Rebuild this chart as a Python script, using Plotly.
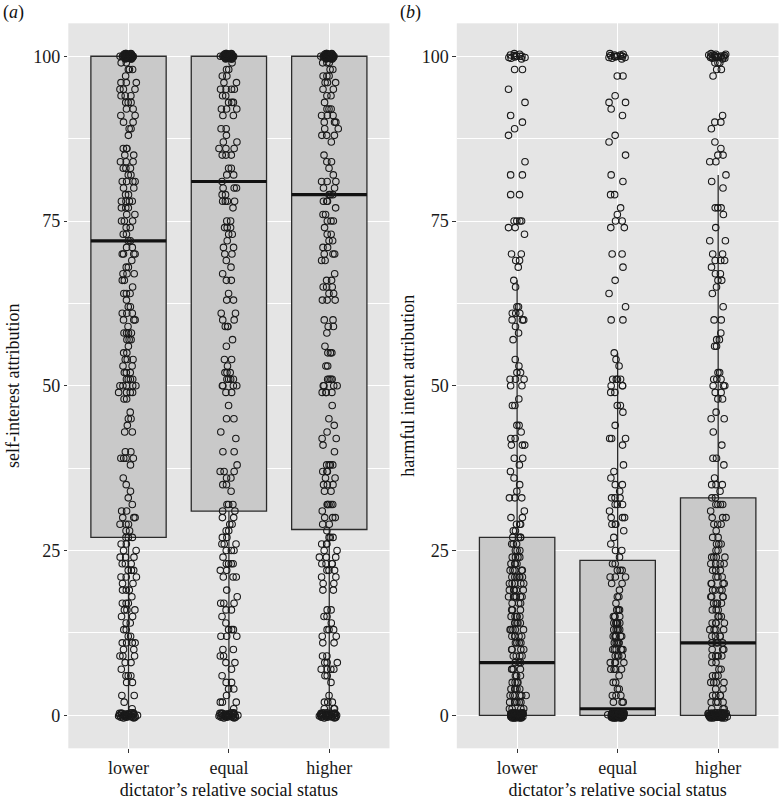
import plotly.graph_objects as go

categories = ["lower", "equal", "higher"]

# ---- box statistics (hinges, median, whisker ends) ----
self_q1 = [27, 31, 28.2]
self_median = [72, 81, 79]
self_q3 = [100, 100, 100]
self_lowerfence = [0, 0, 0]
self_upperfence = [100, 100, 100]

harm_q1 = [0, 0, 0]
harm_median = [8, 1, 11]
harm_q3 = [27, 23.5, 33]
harm_lowerfence = [0, 0, 0]
harm_upperfence = [66, 55, 82]

# ---- individual responses (read approximately from the jittered points) ----
self_lower = [
    100, 99.8, 100.2, 99.7, 100.3, 100, 99.9, 100.1, 99.6, 100.4, 100, 99.8, 100.2, 100, 99.7, 100.3, 99.9, 100.1,
    100, 99.8, 100.2, 99.6, 100.4, 100, 99.9, 100.1, 100, 99.7, 100.3, 100, 99.8, 100.2, 100, 99.9, 100.1, 100,
    100, 99.8, 100.2, 99.7, 100.3, 100, 99.9, 100.1, 99.6, 100.4, 100, 99.8, 100.2, 100,
    99, 99, 98, 98, 98, 97, 96, 96, 96, 95, 95, 95, 94, 94, 94, 93, 93, 93, 92, 92, 91, 91, 90, 90, 89, 89, 88,
    86, 86, 86, 85, 85, 84, 84, 84, 83, 83, 83, 82, 82, 81, 81, 81, 81, 80, 80, 79, 79, 78, 78, 78, 78, 77, 77,
    77, 76, 76, 75, 75, 75, 74, 74, 73, 73, 72, 72, 71, 71, 70, 70,
    70, 70, 69, 68, 68, 67, 67, 67, 66, 66, 65, 64, 64, 64, 63, 62, 62, 61, 61, 61, 60, 60, 60, 59, 58, 58, 58,
    58, 57, 57, 57, 56, 55, 55, 54, 54, 54, 53, 53, 52, 52, 52, 51, 51, 51, 51, 50, 50, 50, 50, 50, 49, 49, 49,
    49, 48, 48, 46, 45, 45, 44, 43, 43, 40, 40, 39, 39, 39, 39, 38, 36, 35, 34, 33, 31,
    32, 31, 30, 30, 30, 29, 29, 29, 28, 28, 27, 27, 27, 26, 26, 25, 25, 24, 24, 24, 23, 23, 23, 22, 22, 22, 21,
    21, 21, 20, 20, 19, 19, 19, 18, 17, 17, 17, 16, 16, 16, 15, 15, 14, 14, 13, 13, 12, 12, 11, 11, 11, 11, 10,
    10, 9, 9, 9, 8, 8, 7, 6, 6, 6, 5, 5, 3, 3, 2, 1,
    0, 0.2, -0.2, 0.3, -0.3, 0.1, -0.1, 0.4, -0.4, 0, 0.2, -0.2, 0.3, -0.3, 0.1, -0.1, 0, 0.2, -0.2, 0.3, -0.3,
    0.1, -0.1, 0.4, -0.4, 0, 0.2, -0.2, 0.1, -0.1, 0, 0.3, -0.3, 0.2,
]
self_equal = [
    100, 99.8, 100.2, 99.7, 100.3, 100, 99.9, 100.1, 99.6, 100.4, 100, 99.8, 100.2, 100, 99.7, 100.3, 99.9, 100.1,
    100, 99.8, 100.2, 99.6, 100.4, 100, 99.9, 100.1, 100, 99.7, 100.3, 100, 99.8, 100.2, 100, 99.9, 100.1, 100,
    100, 99.8, 100.2, 99.7, 100.3, 100, 99.9, 100.1, 99.6, 100.4, 100, 99.8, 100.2, 100,
    99, 98, 98, 97, 97, 96, 96, 95, 95, 95, 95, 94, 94, 93, 93, 93, 92, 92, 92, 91, 91, 89, 89, 88, 87, 87, 86,
    86, 86, 85, 85, 85, 83, 83, 82, 82, 81, 80, 80, 80, 79, 79, 78, 78, 78, 78, 77, 75, 75, 74, 74, 74, 73, 73,
    72, 71, 71,
    70, 70, 69, 68, 67, 66, 66, 64, 63, 63, 61, 61, 60, 60, 59, 59, 59, 57, 56, 54, 54, 53, 52, 52, 52, 51, 51,
    51, 51, 50, 50, 50, 50, 49, 49, 47, 45, 45, 43, 42, 40, 40, 38, 37, 37, 37, 36, 36, 35, 35, 34, 32, 32, 31,
    32, 31, 30, 30, 29, 29, 28, 28, 27, 27, 26, 26, 26, 25, 25, 25, 24, 23, 23, 23, 23, 22, 22, 21, 21, 21, 19,
    18, 17, 17, 17, 16, 16, 15, 14, 13, 13, 13, 12, 12, 12, 10, 10, 9, 9, 8, 8, 7, 6, 5, 5, 4, 4, 3, 2, 2, 2, 1,
    0, 0.2, -0.2, 0.3, -0.3, 0.1, -0.1, 0.4, -0.4, 0, 0.2, -0.2, 0.3, -0.3, 0.1, -0.1, 0, 0.2, -0.2, 0.3, -0.3,
    0.1, -0.1, 0.4, -0.4, 0, 0.2, -0.2, 0.1, -0.1, 0, 0.3, -0.3, 0.2,
]
self_higher = [
    100, 99.8, 100.2, 99.7, 100.3, 100, 99.9, 100.1, 99.6, 100.4, 100, 99.8, 100.2, 100, 99.7, 100.3, 99.9, 100.1,
    100, 99.8, 100.2, 99.6, 100.4, 100, 99.9, 100.1, 100, 99.7, 100.3, 100, 99.8, 100.2, 100, 99.9, 100.1, 100,
    100, 99.8, 100.2, 99.7, 100.3, 100, 99.9, 100.1, 99.6, 100.4, 100, 99.8, 100.2, 100,
    99, 99, 99, 98, 98, 97, 97, 97, 96, 96, 96, 95, 95, 94, 94, 93, 92, 92, 92, 91, 91, 91, 90, 90, 90, 89, 89,
    88, 88, 88, 87, 85, 84, 84, 83, 82, 81, 81, 81, 80, 80, 79, 79, 79, 78, 78, 78, 77, 76, 76, 75, 75, 75, 74,
    73, 73, 72, 72, 71, 70, 70,
    71, 70, 69, 69, 67, 66, 66, 65, 65, 65, 64, 64, 63, 63, 63, 60, 60, 59, 59, 58, 56, 55, 55, 55, 53, 53, 51,
    51, 51, 51, 50, 50, 50, 50, 49, 49, 49, 49, 47, 45, 44, 43, 42, 42, 41, 40, 38, 38, 38, 38, 37, 37, 37, 36,
    36, 35, 35, 35, 34, 34, 32, 32, 32,
    32, 32, 31, 30, 30, 30, 29, 29, 28, 27, 27, 27, 26, 26, 26, 25, 25, 24, 24, 24, 23, 23, 23, 23, 22, 22, 22,
    21, 21, 20, 20, 19, 19, 16, 16, 15, 15, 14, 13, 13, 13, 12, 12, 11, 11, 9, 9, 8, 8, 8, 7, 7, 7, 7, 6, 6, 5,
    3, 2, 2, 2, 1, 1, 1,
    0, 0.2, -0.2, 0.3, -0.3, 0.1, -0.1, 0.4, -0.4, 0, 0.2, -0.2, 0.3, -0.3, 0.1, -0.1, 0, 0.2, -0.2, 0.3, -0.3,
    0.1, -0.1, 0.4, -0.4, 0, 0.2, -0.2, 0.1, -0.1, 0, 0.3, -0.3, 0.2, -0.2, 0.1,
]

harm_lower = [
    100, 99.8, 100.2, 99.7, 100.3, 100, 99.9, 100.1, 99.6, 100.4, 100, 99.8,
    98, 98, 95, 93, 91, 90, 89, 88, 84, 82, 82, 79, 79, 75, 75, 75, 75, 74, 74, 73, 70, 69,
    70, 69, 68, 66, 65, 62, 62, 61, 61, 61, 60, 60, 60, 59, 58, 57, 54, 53, 52, 52, 51, 51, 51, 50, 50, 48, 47,
    47, 44, 44, 43, 42, 42, 41, 41, 41, 39, 39, 38, 37, 36, 35, 34, 33, 33,
    33, 31, 30, 30, 29, 29, 29, 28, 28, 27, 27, 27, 27, 26, 26, 25, 25, 24, 24, 24, 23, 23, 23, 22, 22, 22, 22,
    21, 21, 21, 21, 20, 20, 20, 20, 19, 19, 19, 19, 18, 18, 18, 18, 17, 17, 16, 16, 15, 15, 15, 14, 14, 14, 14,
    13, 13, 13, 12, 12, 12, 11, 11, 11, 10, 10, 10, 9, 9, 8, 8, 7, 7, 7, 6, 5, 5, 4, 4, 4, 4, 3, 3, 3, 3, 2, 2,
    2, 2, 1, 1, 26, 25, 23, 22, 21, 20, 19, 18, 17, 16, 15, 14, 13, 12, 11, 10, 9, 8, 7, 6, 5, 4, 3, 2, 1, 24,
    21, 18, 15, 13, 12, 9, 6, 5, 3, 2, 1,
    0, 0.2, -0.2, 0.3, -0.3, 0.1, -0.1, 0.4, -0.4, 0, 0.2, -0.2, 0.3, -0.3, 0.1, -0.1, 0, 0.2, -0.2, 0.3, -0.3,
    0.1, -0.1, 0.4, -0.4, 0, 0.2, -0.2, 0.1, -0.1, 0, 0.2, -0.2, 0.3, -0.3, 0.1, -0.1, 0.4, -0.4, 0, 0.2, -0.2,
    0.3, -0.3, 0.1, -0.1, 0, 0.2, -0.2, 0.3, 0, 0.2, -0.2, 0.3, -0.3, 0.1, -0.1, 0.4, -0.4, 0, 0.2, -0.2, 0.3,
    -0.3, 0.1, -0.1, 0, 0.2, -0.2, 0.3, -0.3, 0.1, -0.1, 0.4, -0.4, 0,
]
harm_equal = [
    100, 99.8, 100.2, 99.7, 100.3, 100, 99.9, 100.1, 99.6, 100.4, 100, 99.8, 100.2, 100,
    97, 97, 94, 93, 93, 92, 91, 88, 87, 85, 82, 81, 79, 79, 77, 76, 75, 75, 74, 74, 70,
    70, 68, 66, 64, 62, 60, 60, 55, 54, 53, 51, 51, 51, 51, 50, 50, 50, 49, 49, 47, 47, 46, 44, 42, 42, 42, 41,
    38, 37, 36, 35, 35, 34, 33, 33, 32, 32,
    33, 32, 31, 30, 30, 30, 29, 29, 29, 28, 27, 26, 25, 25, 24, 23, 23, 22, 22, 22, 21, 21, 21, 20, 20, 19, 18,
    18, 17, 16, 16, 15, 15, 15, 14, 14, 14, 14, 13, 13, 13, 13, 12, 12, 12, 12, 11, 11, 11, 11, 10, 10, 10, 10,
    9, 9, 8, 8, 8, 7, 7, 7, 6, 5, 5, 4, 4, 3, 3, 3, 2, 2, 2, 16, 15, 14, 13, 12, 11, 10, 9, 8, 7, 14, 12, 10, 9,
    0, 0.2, -0.2, 0.3, -0.3, 0.1, -0.1, 0.4, -0.4, 0, 0.2, -0.2, 0.3, -0.3, 0.1, -0.1, 0, 0.2, -0.2, 0.3, -0.3,
    0.1, -0.1, 0.4, -0.4, 0, 0.2, -0.2, 0.1, -0.1, 0, 0.2, -0.2, 0.3, -0.3, 0.1, -0.1, 0.4, -0.4, 0, 0.2, -0.2,
    0.3, -0.3, 0.1, -0.1, 0, 0.2, -0.2, 0.3, -0.3, 0.1, -0.1, 0.4, -0.4, 0, 0.2, -0.2, 0.1, -0.1, 0, 0.2, -0.2,
    0.3, -0.3, 0.1, -0.1, 0.4, -0.4, 0, 0.2, -0.2, 0.3, -0.3, 0.1, -0.1, 0, 0.2, -0.2, 0.3, -0.3, 0.1, -0.1,
]
harm_higher = [
    100, 99.8, 100.2, 99.7, 100.3, 100, 99.9, 100.1, 99.6, 100.4, 100, 99.8, 100.2, 100, 99.7, 100.3, 99.9, 100.1,
    99, 99, 99, 98, 98, 97, 91, 90, 90, 89, 87, 86, 85, 85, 84, 84, 82, 81, 80, 77, 77, 77, 76, 74, 72, 72, 70,
    69,
    70, 69, 69, 68, 67, 67, 66, 66, 65, 64, 62, 60, 60, 58, 57, 57, 56, 56, 52, 52, 51, 51, 51, 50, 50, 50, 49,
    49, 48, 48, 46, 45, 45, 43, 41, 39, 39, 38, 36, 35, 35, 35, 34, 33, 33, 32, 32, 32,
    32, 31, 30, 30, 30, 29, 29, 29, 28, 27, 27, 26, 26, 26, 25, 24, 24, 24, 24, 23, 23, 23, 22, 22, 22, 21, 21,
    20, 20, 20, 20, 19, 19, 19, 18, 18, 18, 18, 17, 17, 17, 16, 16, 16, 15, 15, 14, 14, 14, 14, 13, 13, 13, 12,
    12, 12, 12, 11, 11, 11, 10, 10, 10, 9, 9, 9, 9, 8, 8, 7, 6, 6, 6, 5, 5, 5, 4, 4, 3, 3, 3, 2, 2, 2, 1, 1,
    25, 23, 21, 19, 17, 15, 13, 11, 9, 7, 5, 3, 2, 1,
    0, 0.2, -0.2, 0.3, -0.3, 0.1, -0.1, 0.4, -0.4, 0, 0.2, -0.2, 0.3, -0.3, 0.1, -0.1, 0, 0.2, -0.2, 0.3, -0.3,
    0.1, -0.1, 0.4, -0.4, 0, 0.2, -0.2, 0.1, -0.1, 0, 0.2, -0.2, 0.3, -0.3, 0.1, -0.1, 0.4, -0.4, 0, 0.2, -0.2,
    0.3, -0.3, 0.1, -0.1, 0, 0.2, -0.2, 0.3, -0.3, 0.1, -0.1, 0.4, -0.4, 0, 0.2, -0.2, 0.1, -0.1, 0, 0.3,
]

panels = [
    dict(xa="x", ya="y", stats=(self_q1, self_median, self_q3, self_lowerfence, self_upperfence),
         groups=[self_lower, self_equal, self_higher]),
    dict(xa="x2", ya="y2", stats=(harm_q1, harm_median, harm_q3, harm_lowerfence, harm_upperfence),
         groups=[harm_lower, harm_equal, harm_higher]),
]

FONT = "Liberation Serif, Times New Roman, serif"
BOXW = 0.75


def value_bands(vals):
    """split one group's values into bands of similar density so plotly's
    density-scaled jitter gives an even spread everywhere"""
    out = {}
    for v in vals:
        if v >= 99.5:
            k = "top"
        elif v <= 0.5:
            k = "bottom"
        else:
            k = int(v // 10)
        out.setdefault(k, []).append(v)
    return list(out.values())


fig = go.Figure()

# boxes
for p in panels:
    q1, med, q3, lf, uf = p["stats"]
    fig.add_trace(go.Box(
        x=categories, q1=q1, median=med, q3=q3, lowerfence=lf, upperfence=uf,
        boxpoints=False, width=BOXW, whiskerwidth=0,
        fillcolor="#c9c9c9", line=dict(color="#2b2b2b", width=1.3),
        xaxis=p["xa"], yaxis=p["ya"], hoverinfo="skip", showlegend=False,
    ))
    # thick median line
    fig.add_trace(go.Box(
        x=categories, q1=med, median=med, q3=med, lowerfence=med, upperfence=med,
        boxpoints=False, width=BOXW, whiskerwidth=0,
        fillcolor="rgba(0,0,0,0)", line=dict(color="#111111", width=3.2),
        xaxis=p["xa"], yaxis=p["ya"], hoverinfo="skip", showlegend=False,
    ))

# jittered points
for p in panels:
    for cat, vals in zip(categories, p["groups"]):
        for band in value_bands(vals):
            fig.add_trace(go.Box(
                x=[cat] * len(band), y=band,
                boxpoints="all", jitter=0.27, pointpos=0, width=BOXW, whiskerwidth=0,
                fillcolor="rgba(0,0,0,0)", line=dict(color="rgba(0,0,0,0)", width=0),
                marker=dict(symbol="circle-open", size=6.5, color="#1a1a1a", line=dict(width=1.1)),
                xaxis=p["xa"], yaxis=p["ya"], hoverinfo="skip", showlegend=False,
            ))

xdom1 = [68.3 / 780, 389.5 / 780]
xdom2 = [456.8 / 780, 778.5 / 780]
ydom = [1 - 748.3 / 800, 1 - 23.3 / 800]

xcommon = dict(
    type="category", categoryorder="array", categoryarray=categories, range=[-0.6, 2.6],
    showgrid=True, gridcolor="white", gridwidth=1.4, zeroline=False, showline=False,
    ticks="outside", ticklen=3.5, tickwidth=1.1, tickcolor="#333333",
    tickfont=dict(family=FONT, size=18, color="#1a1a1a"),
    title=dict(text="dictator’s relative social status", font=dict(family=FONT, size=18, color="#111111"),
               standoff=5),
    automargin=False, fixedrange=True,
)
ycommon = dict(
    range=[-5, 105], tickvals=[0, 25, 50, 75, 100], ticktext=["0", "25", "50", "75", "100"],
    showgrid=True, gridcolor="white", gridwidth=1.4, zeroline=False, showline=False,
    ticks="outside", ticklen=3.5, tickwidth=1.1, tickcolor="#333333",
    tickfont=dict(family=FONT, size=18, color="#1a1a1a"),
    minor=dict(tickvals=[12.5, 37.5, 62.5, 87.5], showgrid=True, gridcolor="white", gridwidth=0.7, ticks=""),
    automargin=False, fixedrange=True,
)

fig.update_layout(
    width=780, height=800,
    margin=dict(l=0, r=0, t=0, b=0),
    paper_bgcolor="white", plot_bgcolor="#e5e5e5",
    boxmode="overlay", showlegend=False,
    font=dict(family=FONT, size=18, color="#111111"),
    xaxis=dict(domain=xdom1, anchor="y", **xcommon),
    xaxis2=dict(domain=xdom2, anchor="y2", **xcommon),
    yaxis=dict(domain=ydom, anchor="x",
               title=dict(text="self-interest attribution", font=dict(family=FONT, size=18, color="#111111"),
                          standoff=8), **ycommon),
    yaxis2=dict(domain=ydom, anchor="x2",
                title=dict(text="harmful intent attribution", font=dict(family=FONT, size=18, color="#111111"),
                           standoff=2), **ycommon),
    annotations=[
        dict(text="(<i>a</i>)", xref="paper", yref="paper", x=1 / 780, y=1 - 13 / 800,
             xanchor="left", yanchor="middle", showarrow=False, font=dict(family=FONT, size=18, color="#111111")),
        dict(text="(<i>b</i>)", xref="paper", yref="paper", x=398 / 780, y=1 - 13 / 800,
             xanchor="left", yanchor="middle", showarrow=False, font=dict(family=FONT, size=18, color="#111111")),
    ],
)

# remove the browser's default 8px page margin so the 780x800 figure fills the window
fig.write_html(
    "out.html",
    config={"displayModeBar": False},
    post_script="document.body.style.margin='0';document.body.style.overflow='hidden';",
)
